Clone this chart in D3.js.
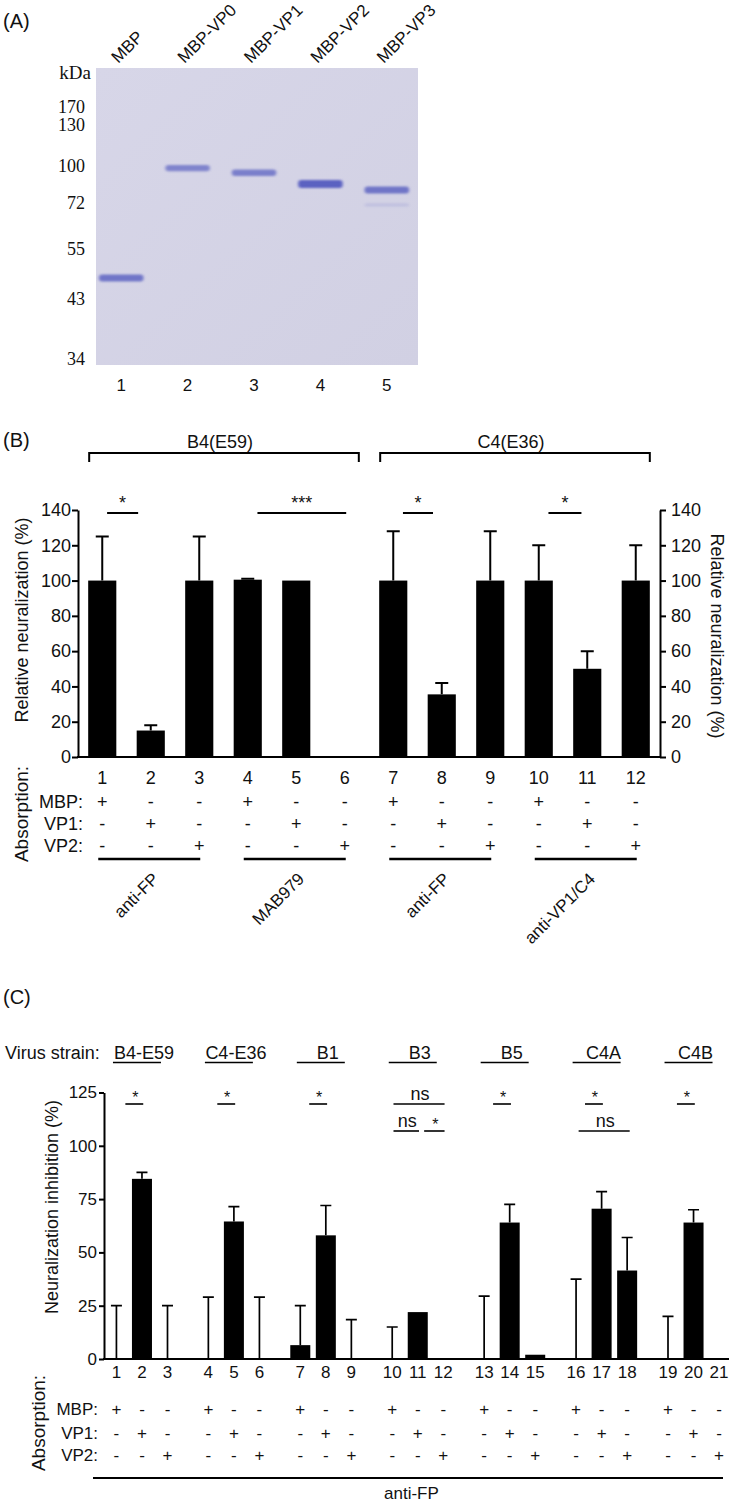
<!DOCTYPE html>
<html>
<head>
<meta charset="utf-8">
<script src="https://cdn.jsdelivr.net/npm/d3@7"></script>
<style>
  body { margin: 0; background: #fff; }
  svg text { font-family: "Liberation Sans", Arial, sans-serif; fill: #111; }
  .serif { font-family: "Liberation Serif", "Times New Roman", serif; }
</style>
</head>
<body>
<svg id="viz"></svg>
<script>
// ----------------------------------------------------------------------------------------------------------------
// DATA

// (A) SDS-PAGE gel
var gelLanes = ["MBP", "MBP-VP0", "MBP-VP1", "MBP-VP2", "MBP-VP3"];
var markerKDa = [170, 130, 100, 72, 55, 43, 34];
var bandLane = [1, 2, 3, 4, 5, 5];
var bandKDa = [47.7, 98, 94, 85, 80.5, 71];
var bandAmount = [0.8, 0.65, 0.7, 1, 0.8, 0.03];

// (B) relative neuralization
var bLanes = [1, 2, 3, 4, 5, 6, 7, 8, 9, 10, 11, 12];
var bMean = [100, 15, 100, 100.5, 100, 0, 100, 35.5, 100, 100, 50, 100];
var bErrTop = [125, 18, 125, 101, 100, 0, 128, 42, 128, 120, 60, 120];
var bTicks = [0, 20, 40, 60, 80, 100, 120, 140];
var bMBP = ["+", "-", "-", "+", "-", "-", "+", "-", "-", "+", "-", "-"];
var bVP1 = ["-", "+", "-", "-", "+", "-", "-", "+", "-", "-", "+", "-"];
var bVP2 = ["-", "-", "+", "-", "-", "+", "-", "-", "+", "-", "-", "+"];
var bStrains = ["B4(E59)", "C4(E36)"];
var bStrainFrom = [1, 7];
var bStrainTo = [6, 12];
var bAntibodies = ["anti-FP", "MAB979", "anti-FP", "anti-VP1/C4"];
var bAbFrom = [1, 4, 7, 10];
var bAbTo = [3, 6, 9, 12];
var bSigLabel = ["*", "***", "*", "*"];
var bSigFrom = [1.1, 4.2, 7.2, 10.2];
var bSigTo = [1.74, 6.03, 7.82, 10.88];

// (C) neuralization inhibition
var cStrains = ["B4-E59", "C4-E36", "B1", "B3", "B5", "C4A", "C4B"];
var cLanes = d3.range(1, 22);
var cMean = [0, 84.5, 0, 0, 64.5, 0, 6.5, 58, 0, 0, 22, 0, 0, 64, 2, 0, 70.5, 41.5, 0, 64, 0];
var cErrTop = [25, 87.5, 25, 29, 71.5, 29, 25, 72, 18.5, 15, 0, 0, 29.5, 72.5, 0, 37.5, 78.5, 57, 20, 70, 0];
var cTicks = [0, 25, 50, 75, 100, 125];
var cMBP = ["+", "-", "-", "+", "-", "-", "+", "-", "-", "+", "-", "-", "+", "-", "-", "+", "-", "-", "+", "-", "-"];
var cVP1 = ["-", "+", "-", "-", "+", "-", "-", "+", "-", "-", "+", "-", "-", "+", "-", "-", "+", "-", "-", "+", "-"];
var cVP2 = ["-", "-", "+", "-", "-", "+", "-", "-", "+", "-", "-", "+", "-", "-", "+", "-", "-", "+", "-", "-", "+"];
var cSigLabel = ["*", "*", "*", "ns", "ns", "*", "*", "*", "ns", "*"];
var cSigFrom = [1.35, 4.35, 7.35, 10.05, 10.05, 11.25, 13.35, 16.35, 16.1, 19.35];
var cSigTo = [2.05, 5.05, 8.05, 12.05, 11.05, 12.05, 14.05, 17.05, 18.1, 20.05];
var cSigRow = [0, 0, 0, 0, 1, 1, 0, 0, 1, 0];


// ----------------------------------------------------------------------------------------------------------------
// INITIAL SETUP

var w = 733;
var h = 1503;
var viz = d3.select("#viz").attr("width", w).attr("height", h);
viz.append("rect").attr("width", w).attr("height", h).attr("fill", "#fff");

var defs = viz.append("defs");
defs.append("filter").attr("id", "blur").attr("x", "-20%").attr("y", "-200%").attr("width", "140%").attr("height", "500%")
  .append("feGaussianBlur").attr("stdDeviation", "1.6 1.1");
var grad = defs.append("linearGradient").attr("id", "gel").attr("x1", 0).attr("y1", 0).attr("x2", 1).attr("y2", 1);
grad.append("stop").attr("offset", "0%").attr("stop-color", "#d7d6e8");
grad.append("stop").attr("offset", "100%").attr("stop-color", "#d1d0e3");

function panelLabel(txt, y) {
  viz.append("text").attr("x", 3).attr("y", y).attr("font-size", 20).text(txt);
}


// ----------------------------------------------------------------------------------------------------------------
// (A) GEL

panelLabel("(A)", 28);

var gelX = d3.scaleBand().domain(d3.range(1, 6)).range([88, 420]).paddingInner(0.3).paddingOuter(0.15);
var gelY = d3.scaleLog().domain(markerKDa).range([107, 124.5, 166, 202.5, 249, 299, 359]);
var bandH = d3.scaleLinear().domain([0, 1]).range([3, 8]);
var bandOp = d3.scaleLinear().domain([0, 1]).range([0.12, 0.95]);

viz.append("rect").attr("x", 96).attr("y", 68).attr("width", 322).attr("height", 297).attr("fill", "url(#gel)");

viz.append("g").selectAll("rect")
  .data(bandKDa)
  .enter()
  .append("rect")
  .attr("x", function(d, i) { return gelX(bandLane[i]) + 1; })
  .attr("width", gelX.bandwidth() - 2)
  .attr("y", function(d, i) { return gelY(d) - bandH(bandAmount[i]) / 2; })
  .attr("height", function(d, i) { return bandH(bandAmount[i]); })
  .attr("rx", 3)
  .attr("fill", "#555cc0")
  .attr("opacity", function(d, i) { return bandOp(bandAmount[i]); })
  .attr("filter", "url(#blur)");

viz.append("g").selectAll("text")
  .data(markerKDa)
  .enter()
  .append("text")
  .attr("class", "serif")
  .attr("x", 85)
  .attr("y", function(d) { return gelY(d) + 6; })
  .attr("text-anchor", "end")
  .attr("font-size", 18)
  .text(function(d) { return d; });

viz.append("text").attr("class", "serif").attr("x", 91).attr("y", 78.5)
  .attr("text-anchor", "end").attr("font-size", 19).text("kDa");

// rotated lane names
viz.append("g").selectAll("text")
  .data(gelLanes)
  .enter()
  .append("text")
  .attr("transform", function(d, i) {
    return "translate(" + (gelX(i + 1) + gelX.bandwidth() / 2 - 3) + ",64) rotate(-45)";
  })
  .attr("font-size", 17)
  .text(function(d) { return d; });

viz.append("g").selectAll("text")
  .data(gelLanes)
  .enter()
  .append("text")
  .attr("x", function(d, i) { return gelX(i + 1) + gelX.bandwidth() / 2; })
  .attr("y", 391)
  .attr("text-anchor", "middle")
  .attr("font-size", 17)
  .text(function(d, i) { return i + 1; });


// ----------------------------------------------------------------------------------------------------------------
// (B) BAR CHART

panelLabel("(B)", 447);

var bx = d3.scaleBand().domain(bLanes).range([78, 660]).paddingInner(0.42).paddingOuter(0.21);
var by = d3.scaleLinear().domain([0, 140]).range([757, 510]);
function bCenter(v) { return bx(1) + bx.bandwidth() / 2 + (v - 1) * bx.step(); }

var gB = viz.append("g");

var axL = gB.append("g").attr("transform", "translate(78,0)")
  .call(d3.axisLeft(by).tickValues(bTicks).tickSize(6).tickSizeOuter(0).tickPadding(1));
var axR = gB.append("g").attr("transform", "translate(660,0)")
  .call(d3.axisRight(by).tickValues(bTicks).tickSize(6).tickSizeOuter(0).tickPadding(5));
[axL, axR].forEach(function(a) {
  a.select(".domain").attr("stroke", "#000").attr("stroke-width", 2);
  a.selectAll(".tick line").attr("stroke", "#000").attr("stroke-width", 2);
  a.selectAll(".tick text").attr("font-size", 18).attr("fill", "#111")
    .attr("font-family", "'Liberation Sans', Arial, sans-serif");
});

gB.append("line").attr("x1", 77).attr("x2", 661).attr("y1", by(0)).attr("y2", by(0))
  .attr("stroke", "#000").attr("stroke-width", 2);

// error bars behind
gB.selectAll(".err")
  .data(bLanes.filter(function(d, i) { return bErrTop[i] > bMean[i]; }))
  .enter()
  .append("path")
  .attr("class", "err")
  .attr("d", function(d) {
    var i = d - 1, cx = bCenter(d);
    return "M" + cx + "," + by(bMean[i]) + "V" + by(bErrTop[i]) + "M" + (cx - 6.5) + "," + by(bErrTop[i]) + "H" + (cx + 6.5);
  })
  .attr("stroke", "#000").attr("stroke-width", 2).attr("fill", "none");

gB.selectAll(".bar")
  .data(bLanes)
  .enter()
  .append("rect")
  .attr("class", "bar")
  .attr("x", function(d) { return bx(d); })
  .attr("width", bx.bandwidth())
  .attr("y", function(d, i) { return by(bMean[i]); })
  .attr("height", function(d, i) { return by(0) - by(bMean[i]); })
  .attr("fill", "#000");

// significance
bSigLabel.forEach(function(s, i) {
  var x1 = bCenter(bSigFrom[i]), x2 = bCenter(bSigTo[i]);
  gB.append("line").attr("x1", x1).attr("x2", x2).attr("y1", 513).attr("y2", 513)
    .attr("stroke", "#000").attr("stroke-width", 2);
  gB.append("text").attr("x", (x1 + x2) / 2).attr("y", 509).attr("text-anchor", "middle")
    .attr("font-size", 18).text(s);
});

// strain brackets
bStrains.forEach(function(s, i) {
  var x1 = bx(bStrainFrom[i]) + 1, x2 = bx(bStrainTo[i]) + bx.bandwidth();
  gB.append("path").attr("d", "M" + x1 + ",462V453H" + x2 + "V462")
    .attr("stroke", "#000").attr("stroke-width", 2).attr("fill", "none");
  gB.append("text").attr("x", (x1 + x2) / 2 - 4).attr("y", 448).attr("text-anchor", "middle")
    .attr("font-size", 18).text(s);
});

// axis titles
gB.append("text").attr("transform", "translate(28,620) rotate(-90)").attr("text-anchor", "middle")
  .attr("font-size", 18).text("Relative neuralization (%)");
gB.append("text").attr("transform", "translate(711,636) rotate(90)").attr("text-anchor", "middle")
  .attr("font-size", 18).text("Relative neuralization (%)");

// lane numbers and absorption table
gB.selectAll(".lane")
  .data(bLanes)
  .enter()
  .append("text")
  .attr("x", function(d) { return bCenter(d); })
  .attr("y", 784)
  .attr("text-anchor", "middle")
  .attr("font-size", 18)
  .text(function(d) { return d; });

[["MBP:", bMBP, 808], ["VP1:", bVP1, 830], ["VP2:", bVP2, 852]].forEach(function(row) {
  gB.append("text").attr("x", 83).attr("y", row[2]).attr("text-anchor", "end").attr("font-size", 18).text(row[0]);
  gB.append("g").selectAll("text")
    .data(row[1])
    .enter()
    .append("text")
    .attr("x", function(d, i) { return bCenter(i + 1); })
    .attr("y", row[2])
    .attr("text-anchor", "middle")
    .attr("font-size", 18)
    .text(function(d) { return d; });
});

gB.append("text").attr("transform", "translate(28,814) rotate(-90)").attr("text-anchor", "middle")
  .attr("font-size", 19).text("Absorption:");

bAntibodies.forEach(function(s, i) {
  var x1 = bCenter(bAbFrom[i]) - 4, x2 = bCenter(bAbTo[i]) + 1;
  gB.append("line").attr("x1", x1).attr("x2", x2).attr("y1", 859).attr("y2", 859)
    .attr("stroke", "#000").attr("stroke-width", 2.5);
  gB.append("text").attr("transform", "translate(" + (bCenter((bAbFrom[i] + bAbTo[i]) / 2) + 9) + ",880) rotate(-45)")
    .attr("text-anchor", "end").attr("font-size", 17).text(s);
});


// ----------------------------------------------------------------------------------------------------------------
// (C) BAR CHART

panelLabel("(C)", 1004);

var gx = d3.scaleBand().domain(d3.range(7)).range([96, 739.5]);
var ix = d3.scaleBand().domain([0, 1, 2]).range([0, gx.bandwidth()]).paddingInner(0.216).paddingOuter(0.408);
var cy = d3.scaleLinear().domain([0, 125]).range([1359, 1092.5]);
function cLeft(lane) { return gx(Math.floor((lane - 1) / 3)) + ix((lane - 1) % 3); }
function cCenter(v) {
  var l = Math.floor(v);
  return cLeft(l) + ix.bandwidth() / 2 + (v - l) * ix.step();
}

var gC = viz.append("g");

var axC = gC.append("g").attr("transform", "translate(104,0)")
  .call(d3.axisLeft(cy).tickValues(cTicks).tickSize(5).tickSizeOuter(0).tickPadding(2));
axC.select(".domain").attr("stroke", "#000").attr("stroke-width", 2);
axC.selectAll(".tick line").attr("stroke", "#000").attr("stroke-width", 2);
axC.selectAll(".tick text").attr("font-size", 17).attr("fill", "#111")
  .attr("font-family", "'Liberation Sans', Arial, sans-serif");

gC.append("line").attr("x1", 103).attr("x2", 729).attr("y1", cy(0)).attr("y2", cy(0))
  .attr("stroke", "#000").attr("stroke-width", 2);

gC.selectAll(".err")
  .data(cLanes.filter(function(d, i) { return cErrTop[i] > cMean[i]; }))
  .enter()
  .append("path")
  .attr("class", "err")
  .attr("d", function(d) {
    var i = d - 1, x = cCenter(d);
    return "M" + x + "," + cy(cMean[i]) + "V" + cy(cErrTop[i]) + "M" + (x - 5.5) + "," + cy(cErrTop[i]) + "H" + (x + 5.5);
  })
  .attr("stroke", "#000").attr("stroke-width", 1.7).attr("fill", "none");

gC.selectAll(".bar")
  .data(cLanes.filter(function(d, i) { return cMean[i] > 0; }))
  .enter()
  .append("rect")
  .attr("class", "bar")
  .attr("x", function(d) { return cLeft(d); })
  .attr("width", ix.bandwidth())
  .attr("y", function(d) { return cy(cMean[d - 1]); })
  .attr("height", function(d) { return cy(0) - cy(cMean[d - 1]); })
  .attr("fill", "#000");

// significance
cSigLabel.forEach(function(s, i) {
  var x1 = cCenter(cSigFrom[i]), x2 = cCenter(cSigTo[i]);
  var ly = cSigRow[i] === 0 ? 1104 : 1131;
  gC.append("line").attr("x1", x1).attr("x2", x2).attr("y1", ly).attr("y2", ly)
    .attr("stroke", "#000").attr("stroke-width", 1.6);
  gC.append("text").attr("x", (x1 + x2) / 2 + 1)
    .attr("y", s === "*" ? ly - 1 : ly - 4).attr("text-anchor", "middle")
    .attr("font-size", s === "*" ? 16 : 18).text(s);
});

// virus strain header
gC.append("text").attr("x", 5).attr("y", 1059).attr("font-size", 18).text("Virus strain:");
cStrains.forEach(function(s, i) {
  var c = gx(i) + gx.bandwidth() / 2;
  gC.append("text").attr("x", c + 2).attr("y", 1059).attr("text-anchor", "middle")
    .attr("font-size", 18).text(s);
  gC.append("line").attr("x1", c - 29).attr("x2", c + 19).attr("y1", 1062.5).attr("y2", 1062.5)
    .attr("stroke", "#000").attr("stroke-width", 1.6);
});

gC.append("text").attr("transform", "translate(58,1207) rotate(-90)").attr("text-anchor", "middle")
  .attr("font-size", 18).text("Neuralization inhibition (%)");

// lane numbers and absorption table
gC.selectAll(".lane")
  .data(cLanes)
  .enter()
  .append("text")
  .attr("x", function(d) { return cCenter(d); })
  .attr("y", 1378)
  .attr("text-anchor", "middle")
  .attr("font-size", 17)
  .text(function(d) { return d; });

[["MBP:", cMBP, 1415], ["VP1:", cVP1, 1439], ["VP2:", cVP2, 1461]].forEach(function(row) {
  gC.append("text").attr("x", 98).attr("y", row[2]).attr("text-anchor", "end").attr("font-size", 17).text(row[0]);
  gC.append("g").selectAll("text")
    .data(row[1])
    .enter()
    .append("text")
    .attr("x", function(d, i) { return cCenter(i + 1); })
    .attr("y", row[2])
    .attr("text-anchor", "middle")
    .attr("font-size", 17)
    .text(function(d) { return d; });
});

gC.append("text").attr("transform", "translate(45,1423) rotate(-90)").attr("text-anchor", "middle")
  .attr("font-size", 19).text("Absorption:");

gC.append("line").attr("x1", 93).attr("x2", 723).attr("y1", 1478).attr("y2", 1478)
  .attr("stroke", "#000").attr("stroke-width", 2);
gC.append("text").attr("x", 384).attr("y", 1499).attr("font-size", 17).text("anti-FP");
</script>
</body>
</html>
